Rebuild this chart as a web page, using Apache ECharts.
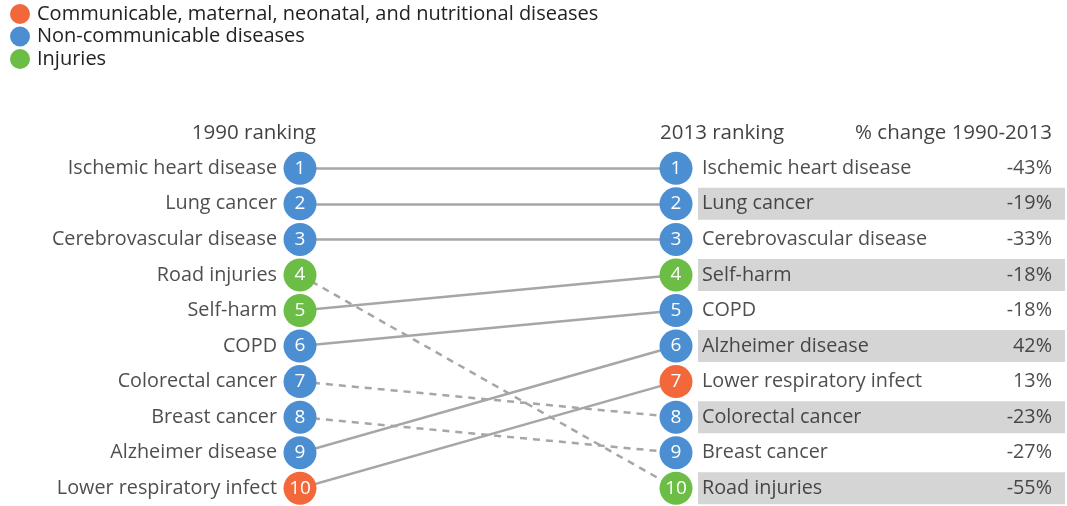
<!DOCTYPE html>
<html>
<head>
<meta charset="utf-8">
<style>
  html, body { margin: 0; padding: 0; background: #ffffff; }
  #chart { width: 1067px; height: 506px; }
</style>
<script src="https://cdn.jsdelivr.net/npm/echarts@6/dist/echarts.min.js"></script>
</head>
<body>
<div id="chart"></div>
<script>
// Leading causes of death, ranked in 1990 and in 2013
const diseases = [
  'Ischemic heart disease', 'Lung cancer', 'Cerebrovascular disease', 'Road injuries',
  'Self-harm', 'COPD', 'Colorectal cancer', 'Breast cancer', 'Alzheimer disease',
  'Lower respiratory infect'
];
const rank1990 = [1, 2, 3, 4, 5, 6, 7, 8, 9, 10];
const rank2013 = [1, 2, 3, 10, 4, 5, 8, 9, 6, 7];
const pctChange = [-43, -19, -33, -55, -18, -18, -23, -27, 42, 13];
const group = ['ncd', 'ncd', 'ncd', 'inj', 'inj', 'ncd', 'ncd', 'ncd', 'ncd', 'cmnn'];

const groupKeys = ['cmnn', 'ncd', 'inj'];
const groupNames = {
  cmnn: 'Communicable, maternal, neonatal, and nutritional diseases',
  ncd: 'Non-communicable diseases',
  inj: 'Injuries'
};
const groupColors = { cmnn: '#f2683a', ncd: '#4b8fd2', inj: '#6bbd45' };

const headers = ['1990 ranking', '2013 ranking', '% change 1990-2013'];

// layout: column 0 = 1990, column 1 = 2013; one x unit = 376px
const UNIT = 376;
const X_MAX = 765 / UNIT;
const PCT_X = 2;
const BAND_X = 22 / UNIT + 1;
const FONT = '"Open Sans", "DejaVu Sans", sans-serif';
const TEXT = '#222222';
const FS = 19.8;

const series = [];

// connectors: solid when a cause holds or climbs, dashed when it falls
series.push({
  type: 'lines',
  coordinateSystem: 'cartesian2d',
  polyline: false,
  z: 2,
  silent: true,
  data: diseases.map((d, i) => ({
    coords: [[0, rank1990[i]], [1, rank2013[i]]],
    lineStyle: {
      color: '#a6a6a6',
      width: 2.5,
      type: rank2013[i] > rank1990[i] ? [7, 6] : 'solid',
      opacity: 1
    }
  }))
});

// numbered circles, one series per cause group (feeds the legend)
groupKeys.forEach(g => {
  const pts = [];
  diseases.forEach((d, i) => {
    if (group[i] !== g) return;
    pts.push([0, rank1990[i]]);
    pts.push([1, rank2013[i]]);
  });
  series.push({
    name: groupNames[g],
    type: 'scatter',
    z: 5,
    symbol: 'circle',
    symbolSize: 33,
    itemStyle: { color: groupColors[g], opacity: 1 },
    label: {
      show: true,
      position: 'inside',
      formatter: p => String(p.value[1]),
      color: '#ffffff',
      fontSize: 19,
      fontFamily: FONT
    },
    data: pts
  });
});

// 1990 names
series.push({
  type: 'scatter',
  z: 4,
  symbolSize: 0,
  silent: true,
  label: {
    show: true,
    position: 'left',
    distance: 23,
    formatter: p => p.data.name,
    color: TEXT,
    fontSize: FS,
    fontFamily: FONT
  },
  data: diseases.map((d, i) => ({ name: d, value: [0, rank1990[i]] }))
});

// 2013 names, with alternate rows shaded
series.push({
  type: 'scatter',
  z: 4,
  symbolSize: 0,
  silent: true,
  label: {
    show: true,
    position: 'right',
    distance: 26,
    formatter: p => p.data.name,
    color: TEXT,
    fontSize: FS,
    fontFamily: FONT
  },
  markArea: {
    silent: true,
    itemStyle: { color: '#d5d5d5' },
    data: rank2013.filter(r => r % 2 === 0).map(r => [
      { xAxis: BAND_X, yAxis: r - 0.45 },
      { xAxis: X_MAX, yAxis: r + 0.45 }
    ])
  },
  data: diseases.map((d, i) => ({ name: d, value: [1, rank2013[i]] }))
});

// % change column
series.push({
  type: 'scatter',
  z: 4,
  symbolSize: 0,
  silent: true,
  label: {
    show: true,
    position: 'left',
    distance: 0,
    formatter: p => p.data.name,
    color: TEXT,
    fontSize: FS,
    fontFamily: FONT
  },
  data: diseases.map((d, i) => ({ name: pctChange[i] + '%', value: [PCT_X, rank2013[i]] }))
});

// column headers
series.push({
  type: 'scatter',
  z: 4,
  symbolSize: 0,
  silent: true,
  label: {
    show: true,
    distance: 0,
    formatter: p => p.data.name,
    color: '#111111',
    fontSize: 20.5,
    fontFamily: FONT
  },
  data: [
    { name: headers[0], value: [16 / UNIT, 0], label: { position: 'left' } },
    { name: headers[1], value: [1 - 16 / UNIT, 0], label: { position: 'right' } },
    { name: headers[2], value: [PCT_X, 0], label: { position: 'left' } }
  ]
});

const chart = echarts.init(document.getElementById('chart'), null, { renderer: 'canvas' });
chart.setOption({
  backgroundColor: '#ffffff',
  animation: false,
  legend: {
    orient: 'vertical',
    left: 5,
    top: -1,
    icon: 'circle',
    itemWidth: 20,
    itemHeight: 20,
    itemGap: 2.5,
    selectedMode: false,
    data: groupKeys.map(g => groupNames[g]),
    textStyle: { color: TEXT, fontSize: 20, fontFamily: FONT, padding: [0, 0, 0, 2] }
  },
  grid: { left: 300, right: 2, top: 115, bottom: 0 },
  xAxis: { type: 'value', min: 0, max: X_MAX, show: false },
  yAxis: { type: 'value', min: -0.5, max: 10.5, inverse: true, show: false },
  series: series
});
</script>
</body>
</html>
